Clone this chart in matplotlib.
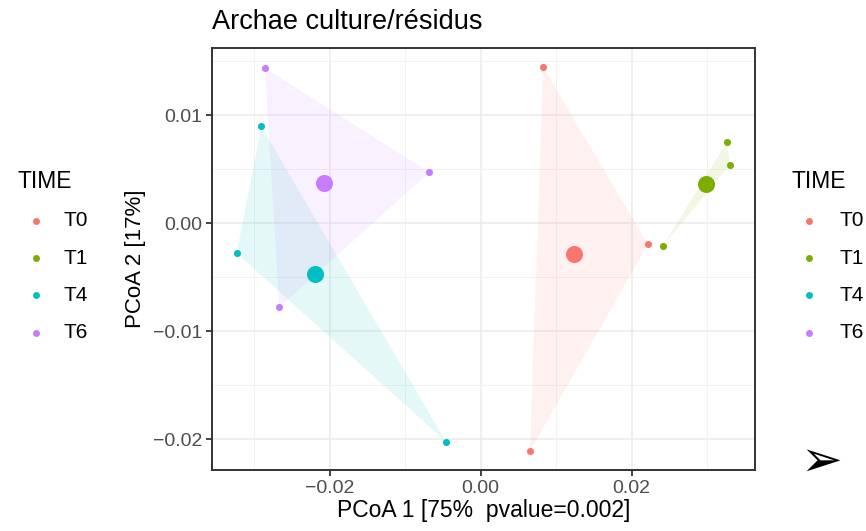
import matplotlib
matplotlib.use("Agg")
import matplotlib.pyplot as plt
from matplotlib.lines import Line2D
import numpy as np

# PCoA coordinates per sampling time
times = ["T0", "T1", "T4", "T6"]
colors = ["#F8766D", "#7CAE00", "#00BFC4", "#C77CFF"]
pc1 = {
    "T0": [0.00831, 0.02215, 0.00655],
    "T1": [0.03263, 0.03302, 0.02413],
    "T4": [-0.02903, -0.03230, -0.00459],
    "T6": [-0.02856, -0.00679, -0.02666],
}
pc2 = {
    "T0": [0.01447, -0.00194, -0.02105],
    "T1": [0.00754, 0.00542, -0.00210],
    "T4": [0.00898, -0.00274, -0.02019],
    "T6": [0.01438, 0.00474, -0.00778],
}
title = "Archae culture/résidus"
xlab = "PCoA 1 [75%  pvalue=0.002]"
ylab = "PCoA 2 [17%]"
xticks = [-0.02, 0.00, 0.02]
yticks = [-0.02, -0.01, 0.00, 0.01]


def hull(pts):
    pts = sorted(map(tuple, pts))
    def cross(o, a, b):
        return (a[0]-o[0])*(b[1]-o[1]) - (a[1]-o[1])*(b[0]-o[0])
    lower, upper = [], []
    for p in pts:
        while len(lower) >= 2 and cross(lower[-2], lower[-1], p) <= 0:
            lower.pop()
        lower.append(p)
    for p in reversed(pts):
        while len(upper) >= 2 and cross(upper[-2], upper[-1], p) <= 0:
            upper.pop()
        upper.append(p)
    return np.array(lower[:-1] + upper[:-1])


plt.rcParams['font.family'] = ['Liberation Sans', 'DejaVu Sans']
W, H = 866, 531
fig = plt.figure(figsize=(W/100, H/100), dpi=100)
ax = fig.add_axes([212/W, 1-470/H, (754.5-212)/W, (470-48)/H])

for t, c in zip(times, colors):
    h = hull(np.column_stack([pc1[t], pc2[t]]))
    ax.fill(h[:, 0], h[:, 1], color=c, alpha=0.10, lw=0, zorder=1)
for t, c in zip(times, colors):
    ax.scatter(pc1[t], pc2[t], s=26, color=c, lw=0, zorder=3)
    ax.scatter(np.mean(pc1[t]), np.mean(pc2[t]), s=150, color=c, lw=0, zorder=4)

# ggplot-like 5% expansion
allx = np.concatenate([pc1[t] for t in times])
ally = np.concatenate([pc2[t] for t in times])
dx = 0.05*(allx.max()-allx.min())
dy = 0.05*(ally.max()-ally.min())
ax.set_xlim(allx.min()-dx, allx.max()+dx)
ax.set_ylim(ally.min()-dy, ally.max()+dy)

ax.set_xticks(xticks)
ax.set_xticklabels(["\u22120.02", "0.00", "0.02"])
ax.set_yticks(yticks)
ax.set_yticklabels(["\u22120.02", "\u22120.01", "0.00", "0.01"])
ax.set_xticks([-0.03, -0.01, 0.01, 0.03], minor=True)
ax.set_yticks([-0.015, -0.005, 0.005, 0.015], minor=True)
ax.grid(which='major', color='#EBEBEB', lw=1.1, zorder=0)
ax.grid(which='minor', color='#F2F2F2', lw=0.7, zorder=0)
ax.set_axisbelow(True)
ax.tick_params(which='major', length=4, width=1.3, color='#333333',
               labelsize=14, labelcolor='#4D4D4D', pad=3)
ax.tick_params(which='minor', length=0)
for s in ax.spines.values():
    s.set_color('#333333')
    s.set_linewidth(1.4)

ax.set_xlabel(xlab, fontsize=16.5, labelpad=2)
ax.set_ylabel(ylab, fontsize=16, labelpad=5)
fig.text(212/W, 1-22/H, title, fontsize=19.5, ha='left', va='center')

# two legends, one each side
for lx, dotx, labx in [(18, 36, 63), (791, 809, 839)]:
    fig.text(lx/W, 1-181/H, "TIME", fontsize=16.5, ha='left', va='center')
    for i, (t, c) in enumerate(zip(times, colors)):
        yy = 1 - (221 + 37.2*i)/H
        fig.add_artist(Line2D([dotx/W], [yy], transform=fig.transFigure,
                              marker='o', ms=5, color=c, mew=0, ls=''))
        fig.text(labx/W, yy, t, fontsize=15, ha='left', va='center')

fig.text(821/W, 1-462/H, "\u27A2", fontsize=36, ha='center', va='center',
         family=['DejaVu Sans'])

fig.savefig("out.png", dpi=100)
